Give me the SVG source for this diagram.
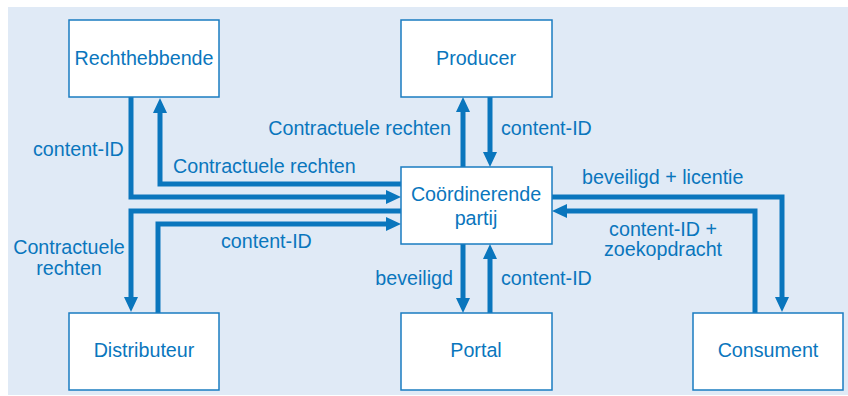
<svg xmlns="http://www.w3.org/2000/svg" width="848" height="396" viewBox="0 0 848 396">
<style>
.box{fill:#ffffff;stroke:#1a7cc1;stroke-width:1.5}
.lbl{font-family:"Liberation Sans",Arial,sans-serif;font-size:19.7px;fill:#0a76bd}
.c{text-anchor:middle}
.e{text-anchor:end}
.ln{fill:none;stroke:#0a76bd;stroke-width:5;stroke-linejoin:miter}
</style>
<defs>
<marker id="ah" viewBox="0 0 15 14" refX="5" refY="7" markerWidth="15" markerHeight="14" markerUnits="userSpaceOnUse" orient="auto">
<path d="M0,0 L15,7 L0,14 z" fill="#0a76bd"/>
</marker>
</defs>
<rect x="8" y="7" width="840" height="388" fill="#e0eaf6"/>
<g id="connectors">
<path class="ln" d="M131,97 V197 H391" marker-end="url(#ah)"/>
<path class="ln" d="M401,184 H160 V108" marker-end="url(#ah)"/>
<path class="ln" d="M401,211 H131 V302" marker-end="url(#ah)"/>
<path class="ln" d="M158,313 V224 H391" marker-end="url(#ah)"/>
<path class="ln" d="M463,167 V107" marker-end="url(#ah)"/>
<path class="ln" d="M490,97 V157" marker-end="url(#ah)"/>
<path class="ln" d="M463,244 V303" marker-end="url(#ah)"/>
<path class="ln" d="M490,313 V254" marker-end="url(#ah)"/>
<path class="ln" d="M552,197 H782 V302" marker-end="url(#ah)"/>
<path class="ln" d="M755,313 V211 H562" marker-end="url(#ah)"/>
<text class="lbl e" x="451" y="135">Contractuele rechten</text>
<text class="lbl" x="501" y="135">content-ID</text>
<text class="lbl" x="33" y="156">content-ID</text>
<text class="lbl" x="173" y="173">Contractuele rechten</text>
<text class="lbl" x="582" y="184">beveiligd + licentie</text>
<text class="lbl c" x="663" y="236">content-ID +</text>
<text class="lbl c" x="663" y="256">zoekopdracht</text>
<text class="lbl" x="221" y="248">content-ID</text>
<text class="lbl c" x="69" y="254">Contractuele</text>
<text class="lbl c" x="69" y="275">rechten</text>
<text class="lbl e" x="453" y="285">beveiligd</text>
<text class="lbl" x="501" y="285">content-ID</text>
</g>
<g id="rechthebbende"><rect class="box" x="69" y="20" width="150" height="77"/><text class="lbl c" x="144" y="65">Rechthebbende</text></g>
<g id="producer"><rect class="box" x="401" y="20" width="151" height="77"/><text class="lbl c" x="476" y="65">Producer</text></g>
<g id="coordinerende"><rect class="box" x="401" y="167" width="151" height="77"/><text class="lbl c" x="476" y="201">Coördinerende</text><text class="lbl c" x="476" y="225">partij</text></g>
<g id="distributeur"><rect class="box" x="69" y="313" width="150" height="77"/><text class="lbl c" x="144" y="357">Distributeur</text></g>
<g id="portal"><rect class="box" x="401" y="313" width="151" height="77"/><text class="lbl c" x="476" y="357">Portal</text></g>
<g id="consument"><rect class="box" x="693" y="313" width="150" height="77"/><text class="lbl c" x="768" y="357">Consument</text></g>
</svg>
